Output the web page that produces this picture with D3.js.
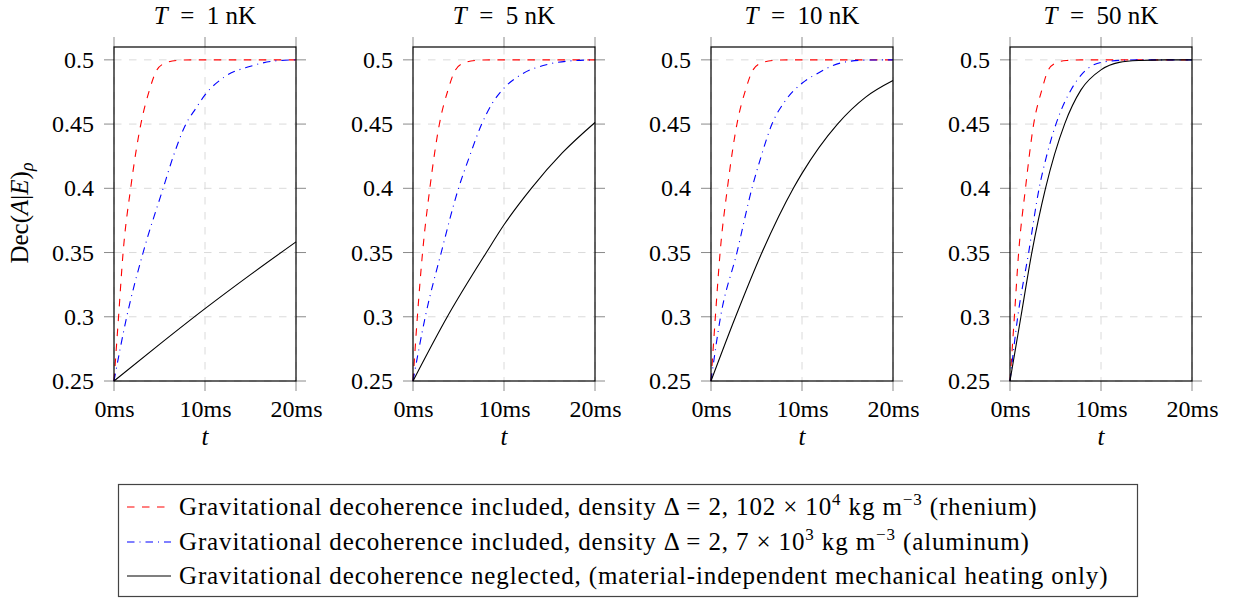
<!DOCTYPE html>
<html>
<head>
<meta charset="utf-8">
<script src="https://cdn.jsdelivr.net/npm/d3@7"></script>
<style>
  body { margin: 0; background: #fff; }
  svg { display: block; font-family: "Liberation Serif", serif; }
</style>
</head>
<body>
<div id="chart"></div>
<script>
// temperatures of the four panels (nK)
var temps = [1, 5, 10, 50];

// x ticks (ms) and y ticks
var xTicks = [0, 10, 20];
var yTicks = [0.25, 0.3, 0.35, 0.4, 0.45, 0.5];

// rhenium, gravitational decoherence included  [t (ms), Dec]
var rhenium1 = [[0,0.25],[0.5,0.30],[1.0,0.35],[1.83,0.40],[2.95,0.45],[3.9,0.4766],[4.7,0.492],[5.6,0.4974],[6.9,0.4995],[8.5,0.5],[20,0.5]];
var rhenium5 = [[0,0.25],[0.48,0.30],[1.05,0.35],[1.85,0.40],[2.9,0.45],[3.85,0.4766],[4.65,0.492],[5.55,0.4974],[6.9,0.4995],[8.5,0.5],[20,0.5]];
var rhenium10 = [[0,0.25],[0.48,0.30],[1.0,0.35],[1.8,0.40],[2.85,0.45],[3.8,0.4766],[4.6,0.492],[5.5,0.4974],[6.8,0.4995],[8.5,0.5],[20,0.5]];
var rhenium50 = [[0,0.25],[0.48,0.30],[0.95,0.35],[1.7,0.40],[2.6,0.45],[3.5,0.4766],[4.2,0.492],[5.0,0.4974],[6.2,0.4995],[7.8,0.5],[20,0.5]];

// aluminum, gravitational decoherence included
var aluminum1 = [[0,0.25],[1.4,0.30],[3.2,0.35],[5.4,0.40],[6.5,0.4246],[7.9,0.45],[9.0,0.4623],[10,0.4727],[12.2,0.487],[14.9,0.4948],[17.5,0.499],[20,0.5]];
var aluminum5 = [[0,0.25],[1.35,0.30],[3.1,0.35],[5.0,0.40],[6.2,0.4246],[7.55,0.45],[8.7,0.466],[10,0.478],[12,0.489],[14.8,0.4965],[17.5,0.4993],[20,0.5]];
var aluminum10 = [[0,0.25],[1.05,0.30],[2.85,0.35],[4.5,0.40],[5.5,0.4246],[6.7,0.45],[8.2,0.4685],[10,0.4818],[11.8,0.4898],[14.2,0.4975],[17,0.4998],[20,0.5]];
var aluminum50 = [[0,0.25],[0.85,0.30],[2.05,0.35],[3.2,0.40],[4.0,0.4246],[5.05,0.45],[6.7,0.4766],[8,0.4896],[10,0.498],[12.5,0.4997],[15,0.5],[20,0.5]];

// gravitational decoherence neglected (mechanical heating only)
var heating1 = [[0,0.25],[5,0.2785],[10,0.3063],[15,0.3328],[20,0.3583]];
var heating5 = [[0,0.25],[3.77,0.30],[8.06,0.35],[10,0.3716],[13.0,0.40],[16.4,0.4275],[20,0.4512]];
var heating10 = [[0,0.25],[2.7,0.30],[5.6,0.35],[9.05,0.40],[10,0.4116],[13.9,0.45],[17,0.471],[20,0.4839]];
var heating50 = [[0,0.25],[1.2,0.30],[2.4,0.35],[3.9,0.40],[6.0,0.45],[7.8,0.4766],[10,0.4922],[12,0.498],[14.2,0.4995],[17,0.5],[20,0.5]];

var panelData = [
  [rhenium1, aluminum1, heating1],
  [rhenium5, aluminum5, heating5],
  [rhenium10, aluminum10, heating10],
  [rhenium50, aluminum50, heating50]
];

var seriesStyle = [
  {color: "#ff0000", dash: "7.5,7.5"},
  {color: "#0000ff", dash: "7.5,5,1,5"},
  {color: "#000000", dash: null}
];

var W = 1234, H = 598;
var fs = 24;
var panelLeft = [114, 413, 711, 1010];
var pw = 182;
var plotTop = 47, plotBottom = 381;

var svg = d3.select("#chart").append("svg")
    .attr("width", W)
    .attr("height", H);

var yScale = d3.scaleLinear()
    .domain([0.25, 0.51])
    .range([plotBottom, plotTop]);

panelData.forEach(function(series, p){
  var xScale = d3.scaleLinear()
      .domain([0, 20])
      .range([0, pw]);
  var g = svg.append("g")
      .attr("transform", "translate(" + panelLeft[p] + ",0)");

  // grid
  g.selectAll(".hgrid").data(yTicks).enter().append("line")
      .attr("x1", 0).attr("x2", pw)
      .attr("y1", function(d){ return yScale(d); })
      .attr("y2", function(d){ return yScale(d); })
      .attr("stroke", "#dadada").attr("stroke-width", 1)
      .attr("stroke-dasharray", "7.5,7.5");
  g.selectAll(".vgrid").data(xTicks).enter().append("line")
      .attr("y1", plotTop).attr("y2", plotBottom)
      .attr("x1", function(d){ return xScale(d); })
      .attr("x2", function(d){ return xScale(d); })
      .attr("stroke", "#dadada").attr("stroke-width", 1)
      .attr("stroke-dasharray", "7.5,7.5");

  // ticks outside the box, all four sides
  var tickCol = "#8a8a8a";
  yTicks.forEach(function(d){
    var y = yScale(d);
    g.append("line").attr("x1", -10).attr("x2", 0).attr("y1", y).attr("y2", y).attr("stroke", tickCol);
    g.append("line").attr("x1", pw).attr("x2", pw + 10).attr("y1", y).attr("y2", y).attr("stroke", tickCol);
  });
  xTicks.forEach(function(d){
    var x = xScale(d);
    g.append("line").attr("x1", x).attr("x2", x).attr("y1", plotTop - 10).attr("y2", plotTop).attr("stroke", tickCol);
    g.append("line").attr("x1", x).attr("x2", x).attr("y1", plotBottom).attr("y2", plotBottom + 10).attr("stroke", tickCol);
  });

  // tick labels through the axes
  var ya = g.append("g")
      .call(d3.axisLeft(yScale).tickValues(yTicks).tickFormat(function(d){ return String(d); }).tickSize(0).tickPadding(20));
  ya.select(".domain").remove();
  ya.selectAll("text").attr("font-size", fs).attr("font-family", "Liberation Serif").attr("fill", "#000");

  var xa = g.append("g")
      .attr("transform", "translate(0," + plotBottom + ")")
      .call(d3.axisBottom(xScale).tickValues(xTicks).tickFormat(function(d){ return d + "ms"; }).tickSize(0).tickPadding(19));
  xa.select(".domain").remove();
  xa.selectAll("text").attr("font-size", fs).attr("font-family", "Liberation Serif").attr("fill", "#000");

  // curves
  var line = d3.line()
      .x(function(d){ return xScale(d[0]); })
      .y(function(d){ return yScale(d[1]); })
      .curve(d3.curveMonotoneX);
  series.forEach(function(s, i){
    g.append("path")
      .datum(s)
      .attr("d", line)
      .attr("fill", "none")
      .attr("stroke", seriesStyle[i].color)
      .attr("stroke-width", 1.1)
      .attr("stroke-dasharray", seriesStyle[i].dash);
  });

  // box
  g.append("rect")
      .attr("x", 0).attr("y", plotTop)
      .attr("width", pw).attr("height", plotBottom - plotTop)
      .attr("fill", "none").attr("stroke", "#000").attr("stroke-width", 1.2);

  // title
  var t = g.append("text")
      .attr("x", pw / 2).attr("y", 24)
      .attr("text-anchor", "middle")
      .attr("font-size", 25);
  t.append("tspan").attr("font-style", "italic").text("T");
  t.append("tspan").text("\u2002=\u2002" + temps[p] + " nK");

  // x label
  g.append("text")
      .attr("x", pw / 2).attr("y", 445)
      .attr("text-anchor", "middle")
      .attr("font-size", 25)
      .attr("font-style", "italic")
      .text("t");
});

// y label
var yl = svg.append("text")
    .attr("transform", "translate(28,213) rotate(-90)")
    .attr("text-anchor", "middle")
    .attr("font-size", 25);
yl.append("tspan").text("Dec(");
yl.append("tspan").attr("font-style", "italic").text("A");
yl.append("tspan").text("|");
yl.append("tspan").attr("font-style", "italic").text("E");
yl.append("tspan").text(")");
yl.append("tspan").attr("font-style", "italic").attr("font-size", 18).attr("dy", 5).text("ρ");

// legend
var lg = svg.append("g");
lg.append("rect")
    .attr("x", 118.5).attr("y", 484.5)
    .attr("width", 1019).attr("height", 112)
    .attr("fill", "#fff").attr("stroke", "#444").attr("stroke-width", 1.2);

var rowY = [507, 542, 576];
seriesStyle.forEach(function(s, i){
  lg.append("line")
    .attr("x1", 127).attr("x2", 171)
    .attr("y1", rowY[i]).attr("y2", rowY[i])
    .attr("stroke", s.color).attr("stroke-width", 1.1)
    .attr("stroke-dasharray", s.dash);
});

var lfs = 25, lsp = "0.87px";
function legendText(i){
  return lg.append("text").attr("x", 179).attr("y", rowY[i] + 8)
    .attr("font-size", lfs).attr("letter-spacing", lsp);
}

var l1 = legendText(0);
l1.append("tspan").text("Gravitational decoherence included, density Δ = 2, 102 × 10");
l1.append("tspan").attr("font-size", 17).attr("dy", -10).text("4");
l1.append("tspan").attr("dy", 10).text("  kg m");
l1.append("tspan").attr("font-size", 17).attr("dy", -10).text("−3");
l1.append("tspan").attr("dy", 10).text(" (rhenium)");

var l2 = legendText(1);
l2.append("tspan").text("Gravitational decoherence included, density Δ = 2, 7 × 10");
l2.append("tspan").attr("font-size", 17).attr("dy", -10).text("3");
l2.append("tspan").attr("dy", 10).text("  kg m");
l2.append("tspan").attr("font-size", 17).attr("dy", -10).text("−3");
l2.append("tspan").attr("dy", 10).text(" (aluminum)");

legendText(2).text("Gravitational decoherence neglected, (material-independent mechanical heating only)");
</script>
</body>
</html>
